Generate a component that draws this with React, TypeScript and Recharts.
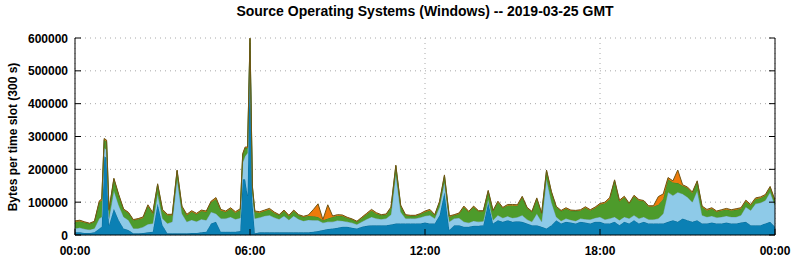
import React from 'react';
import { AreaChart, Area, XAxis, YAxis, CartesianGrid } from 'recharts';

// Values in thousands of bytes per time slot, 10-minute sampling from 00:00 to 24:00
const darkBlueK = [
  8, 8, 6, 6, 8, 20, 240, 30, 80, 45, 20, 15, 5, 5, 6, 8, 10, 95, 30, 5,
  5, 5, 5, 5, 6, 6, 8, 10, 35, 40, 10, 10, 10, 10, 12, 170, 560, 5, 8, 8,
  8, 8, 8, 8, 8, 8, 8, 8, 8, 10, 12, 15, 18, 20, 22, 25, 25, 22, 20, 25,
  28, 30, 30, 30, 30, 32, 35, 35, 35, 35, 35, 35, 38, 35, 35, 60, 130, 15, 30, 30,
  25, 25, 28, 28, 30, 100, 35, 45, 40, 45, 40, 42, 40, 35, 30, 30, 25, 20, 30, 45,
  35, 40, 38, 35, 40, 38, 35, 40, 40, 35, 35, 40, 30, 40, 35, 45, 35, 40, 35, 35,
  35, 35, 40, 45, 40, 50, 45, 40, 45, 35, 35, 38, 35, 35, 38, 35, 35, 38, 40, 30,
  30, 30, 35, 40, 25,
];
const lightBlueK = [
  12, 14, 12, 10, 12, 30, 25, 20, 55, 45, 35, 30, 15, 15, 18, 25, 25, 30, 20, 30,
  35, 165, 60, 35, 40, 35, 40, 35, 35, 25, 40, 40, 45, 38, 40, 70, 25, 45, 45, 50,
  52, 45, 40, 50, 38, 50, 40, 35, 38, 35, 33, 22, 22, 20, 22, 18, 15, 15, 12, 15,
  20, 25, 20, 18, 20, 30, 150, 35, 15, 15, 15, 18, 20, 25, 15, 25, 30, 25, 20, 22,
  15, 12, 15, 12, 12, 8, 10, 15, 12, 12, 12, 12, 20, 12, 10, 35, 15, 150, 70, 10,
  8, 10, 8, 8, 10, 10, 12, 12, 15, 12, 15, 15, 15, 15, 15, 15, 15, 15, 12, 12,
  15, 30, 90, 75, 90, 75, 70, 60, 90, 25, 20, 20, 18, 20, 20, 20, 20, 22, 45, 45,
  65, 68, 70, 90, 65,
];
const greenK = [
  20, 20, 20, 18, 20, 50, 25, 25, 35, 30, 22, 22, 25, 28, 28, 55, 30, 28, 25, 25,
  20, 25, 20, 20, 25, 22, 25, 25, 30, 45, 25, 20, 25, 20, 25, 25, 12, 20, 15, 15,
  18, 14, 12, 15, 12, 15, 12, 12, 12, 12, 10, 8, 10, 15, 15, 15, 12, 10, 8, 12,
  15, 20, 15, 12, 12, 20, 25, 18, 10, 8, 8, 10, 12, 15, 10, 15, 20, 15, 10, 12,
  45, 33, 42, 32, 30, 25, 28, 40, 30, 33, 38, 35, 55, 35, 30, 45, 25, 25, 30, 30,
  30, 30, 28, 30, 25, 35, 28, 30, 38, 50, 60, 110, 58, 60, 45, 58, 55, 48, 40, 40,
  42, 45, 40, 40, 28, 25, 28, 28, 27, 25, 20, 22, 18, 20, 20, 20, 22, 20, 18, 15,
  15, 15, 15, 15, 13,
];
const orangeK = [
  3, 3, 2, 2, 2, 4, 4, 3, 3, 3, 2, 2, 2, 2, 3, 4, 3, 3, 3, 3,
  3, 3, 3, 3, 3, 3, 3, 3, 3, 4, 3, 3, 3, 3, 3, 3, 3, 3, 3, 3,
  3, 3, 2, 3, 2, 3, 2, 2, 3, 20, 40, 2, 42, 3, 3, 3, 2, 2, 2, 2,
  3, 3, 3, 2, 2, 3, 3, 3, 2, 2, 2, 2, 3, 3, 2, 3, 3, 3, 2, 3,
  3, 2, 3, 2, 2, 3, 2, 3, 2, 3, 3, 3, 3, 2, 2, 3, 2, 3, 3, 2,
  2, 3, 2, 2, 2, 3, 2, 3, 3, 3, 4, 3, 3, 3, 2, 3, 3, 2, 2, 2,
  25, 15, 5, 5, 40, 3, 3, 3, 3, 3, 3, 3, 2, 2, 3, 2, 3, 3, 3, 3,
  3, 3, 3, 3, 3,
];

// Additional 5-minute slots read around the two sharp bursts (01:00 and 06:00)
const extraMinutes = [55, 65, 345, 355, 365];
const extraDarkK = [25, 235, 170, 120, 100];
const extraLightK = [30, 25, 50, 130, 30];
const extraGreenK = [50, 25, 25, 15, 15];
const extraOrangeK = [5, 4, 3, 3, 3];

const slotMinutes = 10;
const xTicks = [0, 360, 720, 1080, 1440];
const xTickLabels = ['00:00', '06:00', '12:00', '18:00', '00:00'];
const yTicks = [0, 100000, 200000, 300000, 400000, 500000, 600000];
const yTickLabels = ['0', '100000', '200000', '300000', '400000', '500000', '600000'];

const data = [
  ...darkBlueK.map((d, i) => ({
    t: i * slotMinutes,
    dark: d * 1000,
    light: lightBlueK[i] * 1000,
    green: greenK[i] * 1000,
    orange: orangeK[i] * 1000,
  })),
  ...extraMinutes.map((t, i) => ({
    t,
    dark: extraDarkK[i] * 1000,
    light: extraLightK[i] * 1000,
    green: extraGreenK[i] * 1000,
    orange: extraOrangeK[i] * 1000,
  })),
].sort((a, b) => a.t - b.t);

const FONT = '"Liberation Sans", Arial, Helvetica, sans-serif';

const BottomTick = (props: any) => {
  const { x, y, payload } = props;
  const idx = xTicks.indexOf(payload.value);
  return (
    <g>
      <line x1={x} x2={x} y1={y} y2={y - 6} stroke="#000" strokeWidth={1} />
      <text x={x} y={y + 20} textAnchor="middle" fontFamily={FONT} fontWeight="bold" fontSize={12} fill="#000">
        {xTickLabels[idx]}
      </text>
    </g>
  );
};

const TopTick = (props: any) => {
  const { x, y } = props;
  return <line x1={x} x2={x} y1={y} y2={y + 6} stroke="#000" strokeWidth={1} />;
};

const LeftTick = (props: any) => {
  const { x, y, payload } = props;
  const idx = yTicks.indexOf(payload.value);
  return (
    <g>
      <line x1={x} x2={x + 6} y1={y} y2={y} stroke="#000" strokeWidth={1} />
      <text x={x - 7} y={y + 4.5} textAnchor="end" fontFamily={FONT} fontWeight="bold" fontSize={12} fill="#000">
        {yTickLabels[idx]}
      </text>
    </g>
  );
};

const RightTick = (props: any) => {
  const { x, y } = props;
  return <line x1={x - 6} x2={x} y1={y} y2={y} stroke="#000" strokeWidth={1} />;
};

export default function App() {
  return (
    <div style={{ position: 'absolute', left: 0, top: 0, width: 795, height: 260, background: '#fff' }}>
      <AreaChart width={795} height={260} data={data} margin={{ top: 38, right: 0, bottom: 0, left: 0 }}>
        <CartesianGrid stroke="#a8a8a8" strokeDasharray="1 4" />
        <Area type="linear" dataKey="dark" stackId="s" fill="#0b80b4" fillOpacity={1} stroke="#0a6d99" strokeWidth={1} isAnimationActive={false} dot={false} activeDot={false} />
        <Area type="linear" dataKey="light" stackId="s" fill="#8ecae8" fillOpacity={1} stroke="#79a9c2" strokeWidth={1} isAnimationActive={false} dot={false} activeDot={false} />
        <Area type="linear" dataKey="green" stackId="s" fill="#4d9b2b" fillOpacity={1} stroke="#3f7e22" strokeWidth={1} isAnimationActive={false} dot={false} activeDot={false} />
        <Area type="linear" dataKey="orange" stackId="s" fill="#ee7a0a" fillOpacity={1} stroke="#6e5614" strokeWidth={1} isAnimationActive={false} dot={false} activeDot={false} />
        <XAxis dataKey="t" type="number" domain={[0, 1440]} ticks={xTicks} interval={0} height={25}
          axisLine={{ stroke: '#000', strokeWidth: 1 }} tickLine={false} tickSize={0} tickMargin={0} tick={<BottomTick />} allowDataOverflow />
        <XAxis xAxisId="top" orientation="top" dataKey="t" type="number" domain={[0, 1440]} ticks={xTicks} interval={0} height={0}
          axisLine={{ stroke: '#000', strokeWidth: 1 }} tickLine={false} tickSize={0} tickMargin={0} tick={<TopTick />} allowDataOverflow />
        <YAxis type="number" domain={[0, 600000]} ticks={yTicks} interval={0} width={75} allowDataOverflow
          axisLine={{ stroke: '#000', strokeWidth: 1 }} tickLine={false} tickSize={0} tickMargin={0} tick={<LeftTick />} />
        <YAxis yAxisId="right" orientation="right" type="number" domain={[0, 600000]} ticks={yTicks} interval={0} width={20} allowDataOverflow
          axisLine={{ stroke: '#000', strokeWidth: 1 }} tickLine={false} tickSize={0} tickMargin={0} tick={<RightTick />} />
      </AreaChart>
      <svg width={795} height={260} style={{ position: 'absolute', left: 0, top: 0, pointerEvents: 'none' }}>
        <text x={425} y={16} textAnchor="middle" fontFamily={FONT} fontWeight="bold" fontSize={14} fill="#000">
          Source Operating Systems (Windows) -- 2019-03-25 GMT
        </text>
        <text x={17} y={137} transform="rotate(-90 17 137)" textAnchor="middle" fontFamily={FONT} fontWeight="bold" fontSize={12} fill="#000">
          Bytes per time slot (300 s)
        </text>
      </svg>
    </div>
  );
}
